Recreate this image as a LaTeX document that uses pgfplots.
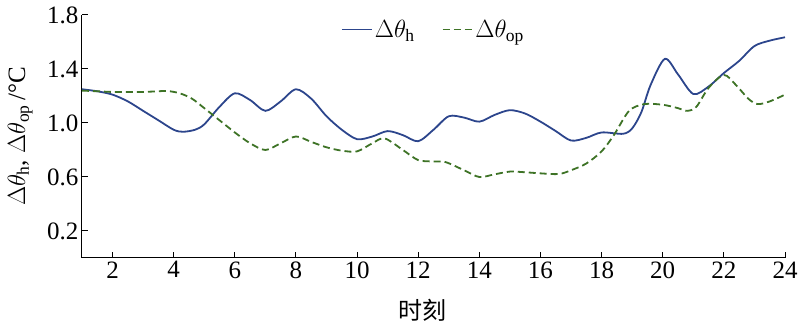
\documentclass[border=0pt]{standalone}
\usepackage{fontspec}
\setmainfont{Liberation Serif}
\newfontfamily\cjk{Noto Sans CJK SC}
\usepackage{pgfplots}
\pgfplotsset{compat=1.18}
\definecolor{cblue}{RGB}{44,69,140}
\definecolor{cgreen}{RGB}{62,115,38}
\begin{document}
\begin{tikzpicture}
\useasboundingbox (-82pt,-73pt) rectangle (718pt,258pt);
\begin{axis}[
  at={(0pt,0pt)}, anchor=south west,
  width=703pt, height=243pt, scale only axis,
  xmin=1, xmax=24, ymin=0, ymax=1.8,
  axis lines*=left,
  axis line style={-, line width=1pt, black},
  tick align=inside,
  major tick length=6pt,
  tick style={line width=1pt, black},
  xtick={2,4,...,24},
  ytick={0.2,0.6,1.0,1.4,1.8},
  /pgf/number format/assume math mode=true,
  tick label style={font=\fontsize{25}{30}\selectfont},
  y tick label style={/pgf/number format/.cd, fixed, fixed zerofill, precision=1},
  xlabel={\cjk 时刻},
  xlabel style={font=\fontsize{24}{28}\selectfont, at={(axis description cs:0.485,-0.214)}, anchor=center},
  ylabel={$\Delta\theta_{\mathrm{h}}$, $\Delta\theta_{\mathrm{op}}$\,/°C},
  ylabel style={font=\fontsize{25}{30}\selectfont, at={(axis description cs:-0.088,0.5)}, anchor=center},
  legend columns=2,
  legend style={at={(0.5,0.94)}, anchor=center, draw=none, fill=none,
    font=\fontsize{25}{30}\selectfont,
    /tikz/every even column/.append style={column sep=25pt}},
  legend image code/.code={\draw[mark repeat=2,mark phase=2,#1] plot coordinates {(0pt,0pt) (15pt,0pt) (30pt,0pt)};},
  legend image post style={line width=1.8pt},
]
\addplot[cblue, line width=1.8pt, smooth, tension=0.5] coordinates {
(1,1.25) (1.5,1.235) (2,1.21) (2.5,1.16) (3,1.09) (3.5,1.02) (4,0.95) (4.3,0.935)
(4.7,0.95) (5,0.99) (5.5,1.12) (6,1.22) (6.5,1.17) (7,1.09) (7.5,1.16) (8,1.25)
(8.5,1.18) (9,1.05) (9.5,0.95) (10,0.88) (10.5,0.90) (11,0.94) (11.5,0.91) (12,0.865)
(12.5,0.95) (13,1.05) (13.5,1.04) (14,1.01) (14.5,1.06) (15,1.095) (15.5,1.07) (16,1.01)
(16.5,0.94) (17,0.87) (17.5,0.89) (18,0.93) (18.7,0.92) (19.0,0.96) (19.3,1.08) (19.6,1.28)
(20.07,1.475) (20.5,1.36) (21,1.215) (21.5,1.27) (22,1.37) (22.5,1.46) (23,1.57) (23.5,1.61) (24,1.635)
};
\addlegendentry{$\Delta\theta_{\mathrm{h}}$}
\addplot[cgreen, line width=1.8pt, dash pattern=on 7pt off 4pt, smooth, tension=0.5] coordinates {
(1,1.24) (1.5,1.235) (2,1.23) (2.5,1.23) (3,1.23) (3.5,1.235) (3.8,1.237) (4.2,1.22)
(4.6,1.18) (5,1.11) (5.5,1.02) (6,0.93) (6.5,0.85) (7,0.80) (7.5,0.85) (8,0.90)
(8.5,0.86) (9,0.82) (9.5,0.795) (10,0.79) (10.5,0.85) (10.9,0.886) (11.5,0.80) (12,0.725)
(12.5,0.715) (12.9,0.71) (13.5,0.65) (14,0.60) (14.5,0.62) (15,0.64) (15.5,0.635) (16,0.627)
(16.6,0.622) (17,0.65) (17.5,0.70) (18,0.79) (18.4,0.91) (18.9,1.09) (19.4,1.14) (20,1.135)
(20.5,1.11) (20.8,1.09) (21.1,1.12) (21.5,1.26) (22,1.356) (22.4,1.28) (22.8,1.18) (23.1,1.14)
(23.5,1.16) (24,1.21)
};
\addlegendentry{$\Delta\theta_{\mathrm{op}}$}
\end{axis}
\end{tikzpicture}
\end{document}
